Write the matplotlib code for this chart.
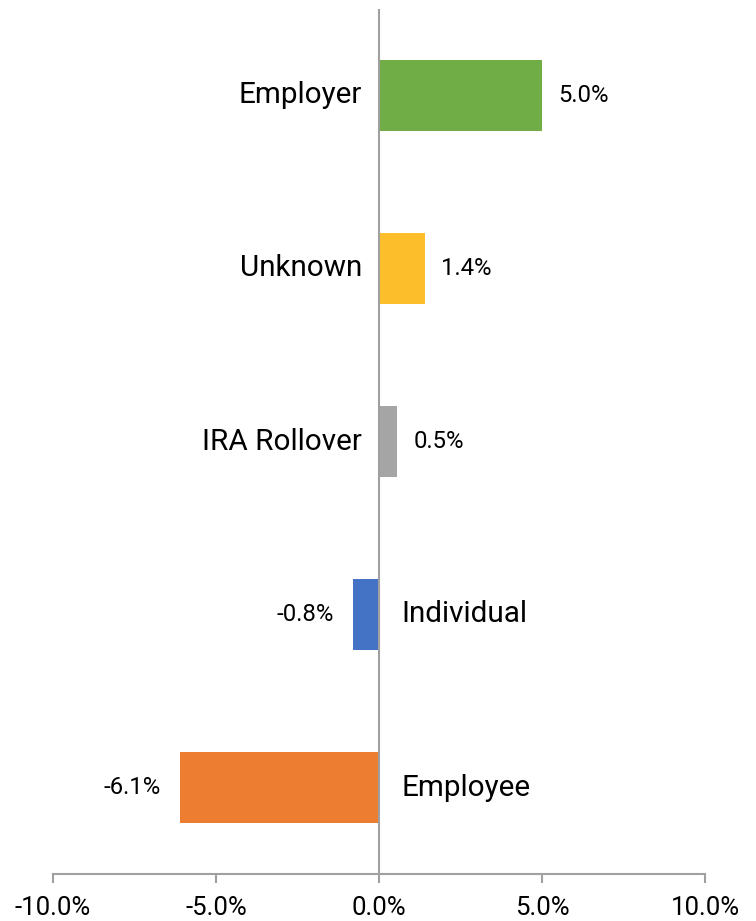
import matplotlib.pyplot as plt

plt.rcParams['font.family'] = ['Roboto', 'DejaVu Sans']

# data, bottom to top
categories = ['Employee', 'Individual', 'IRA Rollover', 'Unknown', 'Employer']
values = [-6.1, -0.8, 0.54, 1.4, 5.0]
colors = ['#ED7D31', '#4472C4', '#A5A5A5', '#FCBF2B', '#70AD47']
ticks = [-10, -5, 0, 5, 10]
axis_grey = '#A0A0A0'

fig = plt.figure(figsize=(7.56, 9.21), dpi=100)
ax = fig.add_axes([53 / 756, 1 - 874 / 921, 652 / 756, 865 / 921])

y = list(range(len(categories)))
ax.barh(y, values, height=0.405, color=colors)

ax.set_xlim(-10, 10)
ax.set_ylim(-0.5, 4.5)
ax.axvline(0, color=axis_grey, linewidth=1.5, zorder=3)

for s in ['top', 'right', 'left']:
    ax.spines[s].set_visible(False)
ax.spines['bottom'].set_color(axis_grey)
ax.spines['bottom'].set_linewidth(1.5)
ax.set_yticks([])
ax.set_xticks(ticks)
ax.set_xticklabels([f'{t:.1f}%' for t in ticks])
ax.tick_params(axis='x', direction='out', length=6.5, width=1.5,
               color=axis_grey, labelsize=18.5, pad=9)

# category names next to the zero line, values at bar ends
for yi, name, v in zip(y, categories, values):
    if v >= 0:
        ax.annotate(name, (0, yi), xytext=(-12, 0), textcoords='offset points',
                    ha='right', va='center', fontsize=21.3)
        ax.annotate(f'{v:.1f}%', (v, yi), xytext=(12, 0), textcoords='offset points',
                    ha='left', va='center', fontsize=17.2)
    else:
        ax.annotate(name, (0, yi), xytext=(16, 0), textcoords='offset points',
                    ha='left', va='center', fontsize=21.3)
        ax.annotate(f'{v:.1f}%', (v, yi), xytext=(-14, 0), textcoords='offset points',
                    ha='right', va='center', fontsize=17.2)

fig.savefig('out.png', dpi=100)
